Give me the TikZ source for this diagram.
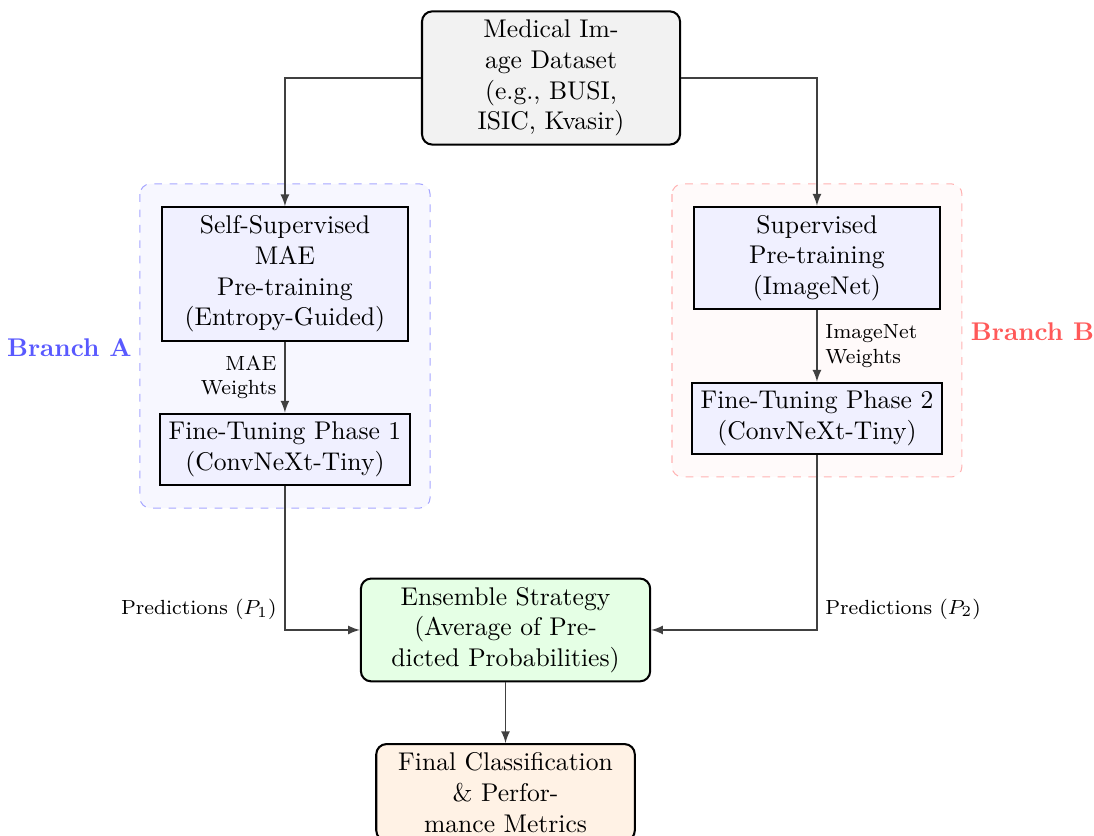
\documentclass[tikz,border=0pt]{standalone}
\usepackage{amsmath}

\tikzset{every picture/.style={line width=0.75pt}}
\tikzset{
    procbox/.style={draw=black, line width=0.8pt, fill=blue!6, align=center, minimum width=96pt, inner sep=3.3pt},
    databox/.style={draw=black, line width=0.8pt, rounded corners=4pt, fill=gray!10, align=center, minimum width=100.8pt, inner sep=3.3pt},
    ensbox/.style={draw=black, line width=0.8pt, rounded corners=4pt, fill=green!10, align=center, minimum width=113pt, inner sep=3.3pt},
    resbox/.style={draw=black, line width=0.8pt, rounded corners=4pt, fill=orange!10, align=center, minimum width=101pt, inner sep=3.3pt},
    flow/.style={draw=black!75, line width=0.6pt, -latex},
    lbl/.style={font=\footnotesize, inner sep=3pt},
    branchA/.style={draw=blue!35, dashed, line width=0.4pt, fill=blue!3, rounded corners=4pt},
    branchB/.style={draw=red!30, dashed, line width=0.4pt, fill=red!2, rounded corners=4pt}
}

\begin{document}
\begin{tikzpicture}[x=0.75pt,y=0.75pt,yscale=-1,xscale=1]
    %set diagram left start at 0, and has height of 435
    \useasboundingbox (0,0) rectangle (569.8,434.9);
    
    %Branch backgrounds
    \draw[branchA] (72.9,95.8) rectangle (224,264.6);
    \draw[branchB] (350,95.8) rectangle (501,248.4);
    
    % Text Node
    \node[databox] (data) at (287,40.6) {Medical Im-\\age Dataset\\(e.g., BUSI,\\ISIC, Kvasir)};
    % Text Node
    \node[procbox] (ssl) at (148.4,142.7) {Self-Supervised\\MAE\\Pre-training\\(Entropy-Guided)};
    % Text Node
    \node[procbox] (ft1) at (148.4,234.1) {Fine-Tuning Phase 1\\(ConvNeXt-Tiny)};
    % Text Node
    \node[procbox] (sup) at (425.5,134.4) {Supervised\\Pre-training\\(ImageNet)};
    % Text Node
    \node[procbox] (ft2) at (425.5,218) {Fine-Tuning Phase 2\\(ConvNeXt-Tiny)};
    % Text Node
    \node[ensbox] (ens) at (263.3,328.1) {Ensemble Strategy\\(Average of Pre-\\dicted Probabilities)};
    % Text Node
    \node[resbox, anchor=north] (final) at (263.3,387) {Final Classification\\\& Perfor-\\mance Metrics};
    
    % Branch labels
    \node[anchor=east, inner sep=0.75pt, text=blue!65, font=\bfseries] (labA) at (70,181.3) {Branch A};
    \node[anchor=west, inner sep=0.75pt, text=red!65, font=\bfseries] (labB) at (504.2,172.9) {Branch B};
    
    %Connectors
    \draw[flow] (data.west) -| (ssl.north);
    \draw[flow] (data.east) -| (sup.north);
    \draw[flow] (ssl) -- node[left, lbl, align=right] {MAE\\Weights} (ft1);
    \draw[flow] (sup) -- node[right, lbl, align=left] {ImageNet\\Weights} (ft2);
    \draw[flow] (ft1.south) |- node[pos=0.43, left, lbl] {Predictions ($P_1$)} (ens.west);
    \draw[flow] (ft2.south) |- node[pos=0.44, right, lbl] {Predictions ($P_2$)} (ens.east);
    \draw[flow] (ens) -- (final);
    
\end{tikzpicture}
\end{document}
